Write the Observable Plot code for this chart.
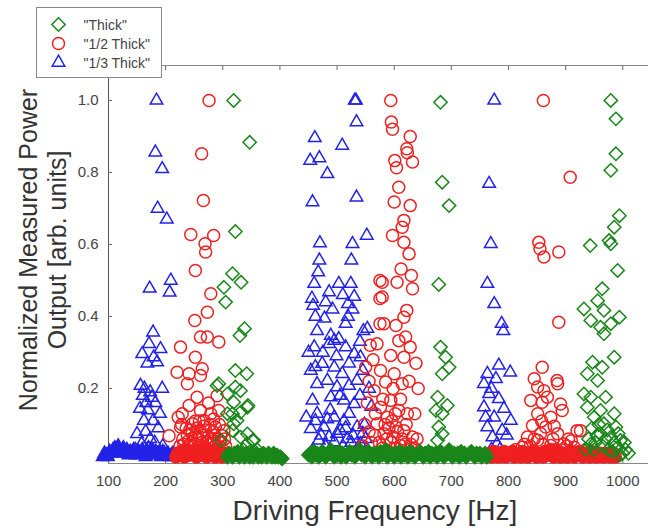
<!DOCTYPE html>
<html><head><meta charset="utf-8">
<script src="https://cdn.jsdelivr.net/npm/d3@7"></script>
<script src="https://cdn.jsdelivr.net/npm/@observablehq/plot@0.6"></script>
<style>
html,body{margin:0;padding:0;background:#fff;}
#chart{width:648px;height:531px;overflow:hidden;}
</style></head><body><div id="chart"></div>
<script>
const seriesNames = ["\"Thick\"", "\"1/2 Thick\"", "\"1/3 Thick\""];
const seriesColors = ["#1a861a", "#f02020", "#2222e8"];
const seriesSymbols = ["diamond2", "circle", "triangle2"];
const xTicks = [100, 200, 300, 400, 500, 600, 700, 800, 900, 1000];
const yTicks = [0.2, 0.4, 0.6, 0.8, 1.0];
const xDomain = [100, 1045];
const yDomain = [-0.0083, 1.0972];
const xTitle = "Driving Frequency [Hz]";
const yTitle = ["Normalized Measured Power", "Output [arb. units]"];

// "Thick" – scattered points [Hz, power]
const thickPts = [[319,1.0],[347,0.884],[322,0.636],[317,0.519],[332,0.495],[302,0.481],[305,0.44],[338,0.366],[330,0.347],[322,0.25],[342,0.241],[293,0.213],[322,0.204],[319,0.162],[344,0.153],[317,0.13],[331,0.134],[319,0.102],[352,0.056],[343,0.046],[331,0.065],[290,0.208],[308,0.185],[331,0.194],[343,0.148],[308,0.13],[325,0.111],[317,0.083],[343,0.074],[354,0.056],[297,0.056],[336,0.03],[360,0.03],[348,0.025],
[681,0.995],[684,0.773],[696,0.708],[678,0.489],[681,0.315],[690,0.287],[696,0.259],[684,0.241],[676,0.176],[693,0.153],[673,0.139],[684,0.13],[678,0.093],[676,0.056],[684,0.074],
[979,1.0],[988,0.949],[988,0.852],[979,0.806],[994,0.68],[985,0.648],[943,0.597],[976,0.611],[979,0.602],[991,0.528],[964,0.477],[932,0.421],[956,0.444],[967,0.417],[994,0.398],[944,0.389],[961,0.37],[979,0.38],[967,0.352],[985,0.287],[947,0.273],[964,0.259],[938,0.241],[956,0.222],[932,0.185],[944,0.176],[970,0.176],[938,0.148],[961,0.139],[985,0.13],[950,0.12],[967,0.102],[988,0.093],[961,0.074],[979,0.065],[996,0.056],[944,0.046],[991,0.037],[950,0.03],[965,0.04],[975,0.03],[1000,0.02],[1005,0.03],[940,0.06],[955,0.07],[970,0.06],[985,0.05],[1010,0.02],
[946,0.09],[958,0.1],[973,0.085],[992,0.075],[1003,0.05],[952,0.05],[982,0.025],[995,0.015],[936,0.03]];

// "1/2 Thick"
const halfPts = [[206,0.069],[276,1.0],[263,0.852],[266,0.722],[244,0.628],[284,0.625],[269,0.602],[270,0.579],[252,0.528],[279,0.463],[273,0.412],[251,0.389],[261,0.343],[273,0.343],[293,0.329],[226,0.315],[252,0.287],[220,0.245],[241,0.241],[264,0.255],[238,0.213],[261,0.236],[255,0.176],[241,0.153],[229,0.13],[261,0.139],[279,0.13],[293,0.139],[226,0.093],[247,0.102],[267,0.111],[287,0.093],[302,0.083],
[230,0.06],[238,0.07],[245,0.05],[252,0.065],[258,0.04],[265,0.07],[272,0.05],[280,0.06],[287,0.04],[295,0.05],[234,0.03],[248,0.025],[262,0.03],[276,0.025],[290,0.03],[300,0.02],[225,0.04],[255,0.09],[270,0.085],[283,0.08],[242,0.085],[297,0.07],[305,0.04],[228,0.1],[259,0.11],[284,0.115],[222,0.12],[275,0.16],[290,0.18],
[232,0.045],[240,0.055],[250,0.04],[256,0.06],[263,0.05],[268,0.035],[274,0.065],[278,0.045],[285,0.055],[292,0.06],[298,0.035],[236,0.09],[246,0.075],[266,0.095],[278,0.1],[294,0.1],[261,0.075],[252,0.11],[286,0.07],[303,0.06],
[594,1.0],[595,0.94],[597,0.92],[628,0.9],[622,0.866],[623,0.855],[601,0.833],[604,0.813],[632,0.829],[608,0.759],[600,0.718],[628,0.708],[617,0.667],[614,0.648],[597,0.625],[617,0.606],[626,0.574],[612,0.532],[630,0.514],[605,0.495],[632,0.477],[579,0.495],[579,0.454],[575,0.5],[575,0.45],[575,0.38],[622,0.417],[617,0.398],[582,0.38],[603,0.375],[620,0.343],[608,0.333],[628,0.315],[570,0.324],[594,0.292],[617,0.287],
[576,0.25],[600,0.241],[585,0.218],[614,0.213],[565,0.194],[594,0.167],[576,0.148],[608,0.139],[623,0.13],[588,0.12],[570,0.102],[603,0.093],[617,0.083],[582,0.074],[632,0.065],[594,0.051],[611,0.042],[548,0.1],[553,0.16],[556,0.22],[560,0.05],[545,0.04],[563,0.28],[550,0.26],[567,0.13],[558,0.32],[640,0.06],[645,0.02],[636,0.13],[642,0.2],[638,0.27],[570,0.02],[590,0.025],[610,0.02],[625,0.03],[580,0.17],[598,0.2],[611,0.17],[626,0.22],[587,0.06],[602,0.13],
[566,0.07],[574,0.05],[584,0.1],[591,0.09],[598,0.065],[606,0.08],[614,0.06],[621,0.1],[629,0.045],[596,0.11],[580,0.035],[604,0.035],[619,0.045],[635,0.035],[556,0.08],
[861,1.0],[908,0.787],[853,0.606],[855,0.588],[862,0.565],[888,0.579],[888,0.384],[859,0.259],[845,0.227],[885,0.222],[862,0.194],[859,0.162],[894,0.139],[926,0.083],[851,0.204],[886,0.213],[839,0.167],[868,0.176],[891,0.157],[851,0.13],[874,0.12],[842,0.097],[865,0.093],[920,0.083],[824,0.037],[851,0.056],[874,0.042],[897,0.046],[915,0.037],[833,0.065],[886,0.074],[812,0.03],[880,0.03],[905,0.06],[935,0.03],[845,0.06],[868,0.02],
[828,0.045],[838,0.04],[856,0.075],[860,0.045],[878,0.06],[892,0.03],[902,0.04],[910,0.055],[858,0.11],[880,0.095]];

// "1/3 Thick"
const thirdPts = [[184,1.0],[182,0.856],[194,0.81],[186,0.70],[202,0.67],[172,0.478],[209,0.50],[207,0.467],[178,0.356],[171,0.324],[191,0.31],[159,0.296],[179,0.287],[185,0.273],[168,0.27],[156,0.208],[163,0.20],[173,0.19],[194,0.20],[160,0.18],[176,0.175],[166,0.16],[182,0.16],[155,0.144],[169,0.14],[190,0.13],[162,0.111],[178,0.11],[150,0.074],[165,0.08],[173,0.06],[158,0.046],[181,0.05],[170,0.035],[187,0.09],[195,0.04],[147,0.03],
[531,1.0],[533,1.0],[534,0.94],[461,0.896],[509,0.875],[453,0.833],[469,0.84],[483,0.796],[457,0.718],[534,0.731],[552,0.625],[470,0.604],[527,0.602],[469,0.556],[525,0.556],[467,0.523],[460,0.491],[503,0.491],[524,0.491],[486,0.468],[456,0.45],[530,0.455],[519,0.435],[462,0.40],[478,0.395],[519,0.40],
[489,0.347],[495,0.333],[486,0.324],[503,0.338],[553,0.366],[460,0.315],[515,0.315],[530,0.296],[541,0.287],[454,0.25],[474,0.269],[495,0.259],[509,0.241],[483,0.222],[465,0.213],[500,0.204],[521,0.208],[535,0.222],[457,0.167],[489,0.176],[512,0.167],[530,0.157],[465,0.13],[495,0.12],[521,0.13],[454,0.088],[477,0.093],[506,0.083],[535,0.093],[468,0.056],[495,0.051],[518,0.06],[541,0.046],
[556,0.2],[560,0.15],[548,0.1],[545,0.25],[540,0.18],[550,0.06],[458,0.43],[465,0.36],[480,0.44],[492,0.42],[510,0.46],[515,0.38],[527,0.42],[540,0.33],[546,0.36],[475,0.30],[499,0.29],[521,0.27],[450,0.30],[446,0.12],[462,0.26],[488,0.14],[505,0.18],[515,0.09],[525,0.05],[480,0.04],[458,0.03],[535,0.03],
[472,0.07],[486,0.065],[500,0.075],[510,0.04],[528,0.07],[545,0.075],[462,0.11],[483,0.115],[512,0.11],[552,0.03],
[775,1.0],[766,0.769],[769,0.602],[763,0.491],[775,0.435],[788,0.38],[791,0.36],[783,0.264],[803,0.245],[763,0.241],[778,0.227],[757,0.213],[766,0.185],[783,0.171],[757,0.148],[792,0.144],[775,0.12],[804,0.111],[763,0.093],[789,0.083],[772,0.065],[780,0.046],[770,0.2],[760,0.12],[785,0.03],[770,0.03],[797,0.07]];

// near-zero responses along the sweep (dense baseline)
const thirdBaseHz = [90,93,96,99,102,105,108,111,114,117,120,123,126,129,132,135,138,141,144,147,150,153,156,159,162,165,168,171,174,177,180,183,186,189,192,195,198,201,204,207,210,213,216];
const thirdBaseV = [.01,.02,.015,.01,.025,.02,.03,.035,.02,.04,.03,.025,.035,.02,.03,.015,.025,.02,.03,.015,.02,.025,.015,.03,.02,.01,.025,.02,.015,.03,.02,.025,.015,.02,.01,.025,.02,.015,.02,.01,.015,.02,.01];
const halfBaseHz = [218,221,224,227,230,233,236,239,242,245,248,251,254,257,260,263,266,269,272,275,278,281,284,287,290,293,296,299,302,305,
765,768,771,774,777,780,783,786,789,792,795,798,801,804,807,810,813,816,819,822,825,828,831,834,837,840,843,846,849,852,855,858,861,864,867,870,873,876,879,882,885,888,891,894,897,900,903,906,909,912,915,918,921,924,927,930,933,936,939,942,945,948,951,954,957,960,963,966,969,972,975,978,981,984,987];
const halfBaseV = [.01,.02,.015,.025,.02,.01,.03,.02,.015,.025,.02,.03,.01,.02,.025,.015,.02,.03,.01,.02,.015,.025,.02,.01,.02,.015,.025,.01,.02,.015,
.015,.02,.01,.025,.015,.02,.01,.015,.02,.025,.01,.015,.02,.015,.025,.01,.02,.015,.02,.01,.025,.015,.02,.01,.015,.02,.025,.015,.01,.02,.015,.02,.01,.025,.015,.02,.03,.015,.01,.02,.015,.025,.01,.02,.015,.02,.01,.015,.025,.02,.01,.015,.02,.025,.015,.01,.02,.015,.02,.01,.025,.015,.02,.01,.015,.02,.015,.01,.02,.015,.02,.01,.015,.02,.01];
const thickBaseHz = [308,311,314,317,320,323,326,329,332,335,338,341,344,347,350,353,356,359,362,365,368,371,374,377,380,383,386,389,392,395,398,401,404,
450,453,456,459,462,465,468,471,474,477,480,483,486,489,492,495,498,501,504,507,510,513,516,519,522,525,528,531,534,537,540,543,546,549,552,555,558,561,564,567,570,573,576,579,582,585,588,591,594,597,600,603,606,609,612,615,618,621,624,627,630,633,636,639,642,645,648,651,654,657,660,663,666,669,672,675,678,681,684,687,690,693,696,699,702,705,708,711,714,717,720,723,726,729,732,735,738,741,744,747,750,753,756,759,762];
const thickBaseV = [.01,.02,.015,.01,.02,.015,.025,.01,.02,.015,.01,.02,.015,.01,.02,.01,.015,.02,.01,.015,.01,.02,.015,.01,.02,.015,.01,.02,.01,.015,.01,.01,.005,
.015,.02,.01,.025,.015,.02,.01,.015,.025,.02,.01,.015,.02,.03,.015,.01,.02,.015,.025,.01,.02,.015,.01,.02,.025,.015,.02,.01,.015,.02,.03,.015,.02,.01,.02,.025,.015,.01,.02,.015,.02,.01,.025,.015,.02,.03,.01,.015,.02,.015,.01,.02,.015,.025,.01,.02,.015,.02,.01,.025,.015,.02,.01,.015,.02,.025,.015,.01,.02,.015,.025,.01,.02,.015,.02,.01,.015,.025,.02,.01,.015,.02,.03,.015,.01,.02,.015,.02,.01,.025,.015,.02,.01,.015,.02,.025,.015,.01,.02,.015,.02,.01,.015,.02,.01];

const rows = (pts) => pts.map(([hz, v]) => ({hz, v}));
const baseRows = (hzs, vs) => hzs.slice(0, Math.min(hzs.length, vs.length)).map((hz, i) => ({hz, v: vs[i]}));

const scatter = [rows(thickPts), rows(halfPts), rows(thirdPts)];
const baseline = [baseRows(thickBaseHz, thickBaseV), baseRows(halfBaseHz, halfBaseV), baseRows(thirdBaseHz, thirdBaseV)];

// dense baseline: overlapping outlines merge into a solid band
const baseMark = (i) => Plot.dot(baseline[i], {
  x: "hz", y: "v", symbol: seriesSymbols[i], stroke: seriesColors[i], fill: seriesColors[i], r: 6, strokeWidth: 1.5
});
const dotMark = (i) => Plot.dot(scatter[i], {
  x: "hz", y: "v", symbol: seriesSymbols[i], stroke: seriesColors[i], r: 6, strokeWidth: 1.5
});

const plot = Plot.plot({
  width: 648, height: 531,
  marginLeft: 108, marginRight: 0, marginTop: 65, marginBottom: 68,
  style: {fontFamily: "'Liberation Sans', Arial, sans-serif", background: "#fff", color: "#444"},
  x: {domain: xDomain},
  y: {domain: yDomain},
  marks: [
    Plot.ruleY([yDomain[0], yDomain[1]], {stroke: "#888"}),
    Plot.ruleX([xDomain[0]], {stroke: "#555"}),
    Plot.axisY({ticks: yTicks, tickFormat: d3.format(".1f"), tickSize: -4, tickPadding: 14, label: null, fontSize: 15, stroke: "#666", fill: "#444"}),
    Plot.axisX({ticks: xTicks, tickFormat: d3.format("d"), tickSize: -4, tickPadding: 16, label: null, fontSize: 15, stroke: "#666", fill: "#444"}),
    Plot.axisX({anchor: "top", ticks: xTicks, tickSize: -4, fill: "none", stroke: "#666", label: null}),
    baseMark(2), dotMark(2),
    baseMark(1), dotMark(1),
    baseMark(0), dotMark(0)
  ]
});

const svg = d3.select(plot);
svg.append("text")
  .attr("x", 375).attr("y", 520).attr("text-anchor", "middle")
  .attr("font-size", 28).attr("fill", "#333").text(xTitle);
yTitle.forEach((t, i) => {
  svg.append("text")
    .attr("transform", `translate(${37 + i * 29},250) rotate(-90)`)
    .attr("text-anchor", "middle").attr("font-size", 25).attr("fill", "#333").text(t);
});

const lg = svg.append("g").attr("transform", "translate(36.5,7.5)");
lg.append("rect").attr("width", 125).attr("height", 70).attr("fill", "#fff").attr("stroke", "#888");
const symMap = {diamond2: d3.symbolDiamond2, circle: d3.symbolCircle, triangle2: d3.symbolTriangle2};
seriesNames.forEach((name, i) => {
  const cy = 17 + i * 19;
  lg.append("path")
    .attr("transform", `translate(22,${cy})`)
    .attr("d", d3.symbol(symMap[seriesSymbols[i]], Math.PI * 36)())
    .attr("fill", "none").attr("stroke", seriesColors[i]).attr("stroke-width", 1.5);
  lg.append("text").attr("x", 47).attr("y", cy + 5).attr("text-anchor", "start")
    .attr("font-size", 14).attr("fill", "#444").text(name);
});

document.getElementById("chart").appendChild(plot);
</script>
</body></html>
